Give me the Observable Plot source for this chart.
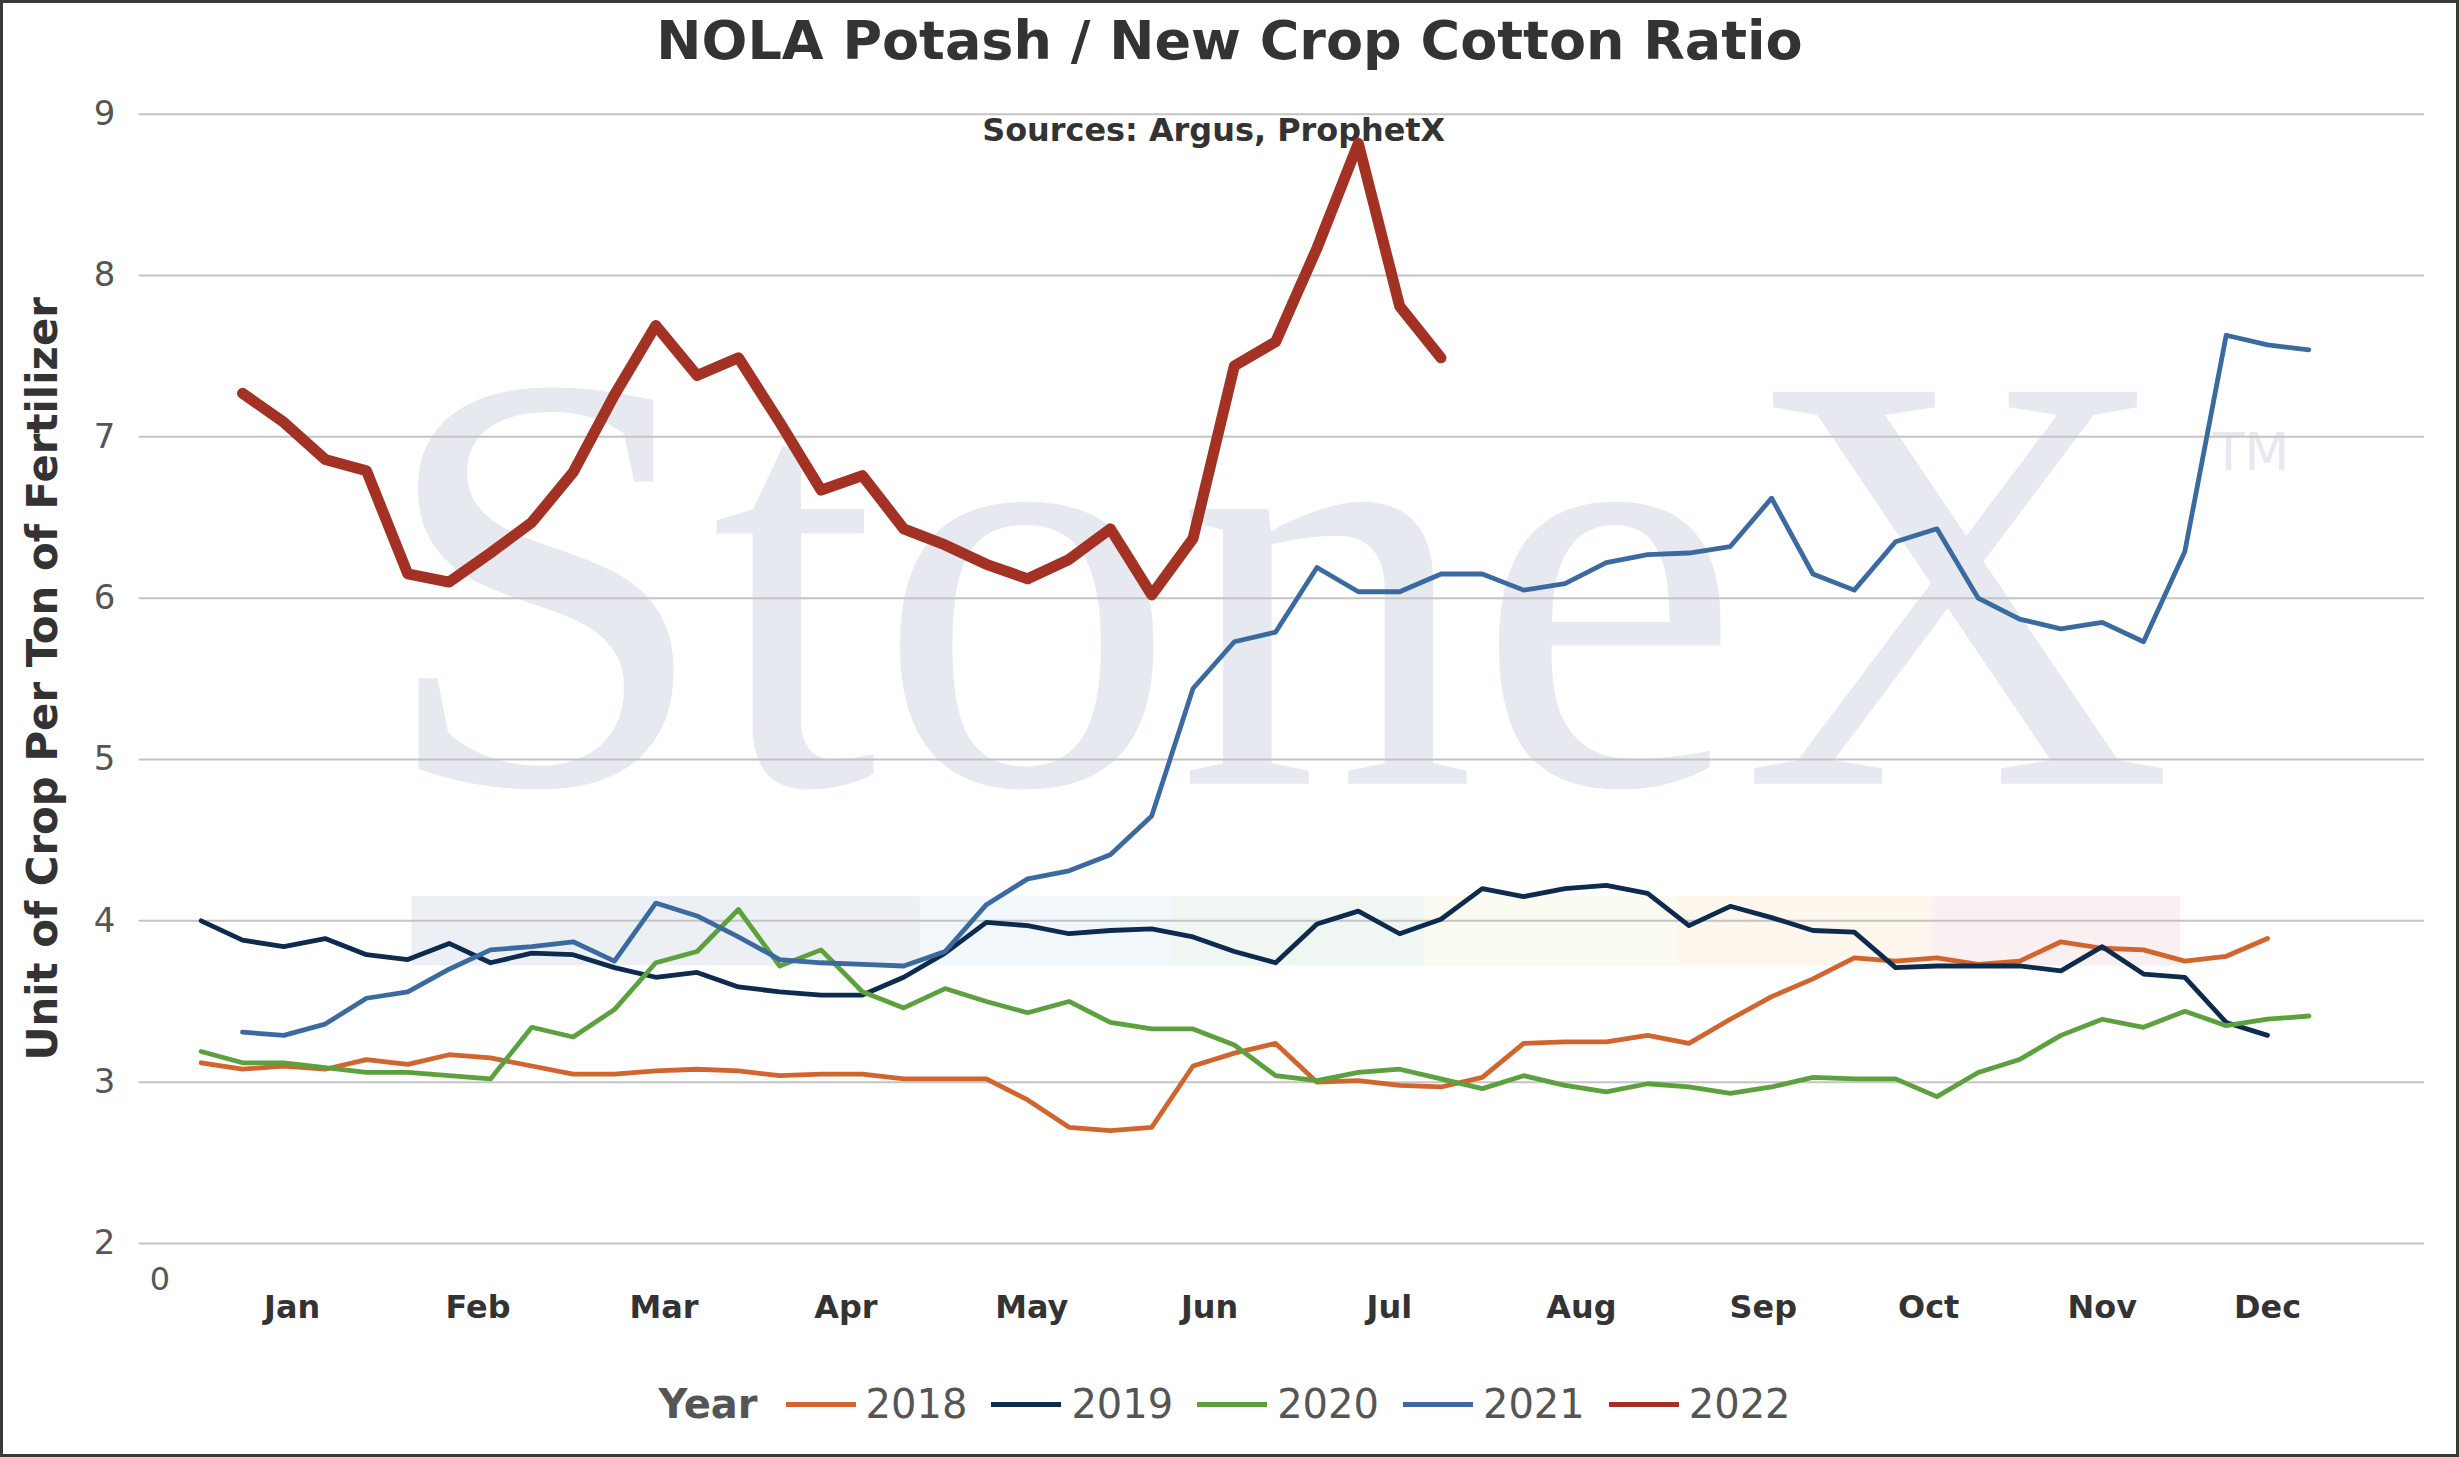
<!DOCTYPE html>
<html><head><meta charset="utf-8">
<script src="https://cdn.jsdelivr.net/npm/d3@7"></script>
<script src="https://cdn.jsdelivr.net/npm/@observablehq/plot@0.6"></script>
<style>
body{margin:0;background:#fff;font-family:"DejaVu Sans",Verdana,sans-serif}
#wrap{position:relative;width:2459px;height:1457px;box-sizing:border-box;border:3px solid #3a3a3a;overflow:hidden}
#chart{position:absolute;left:0;top:0}
#title{position:absolute;top:6px;left:0;width:100%;text-align:center;font-weight:bold;font-size:54px;color:#333}
#legend{position:absolute;top:1378px;left:0;width:100%;text-align:center;font-size:40px;color:#555;display:flex;justify-content:center;align-items:center;gap:14px}
#legend b{margin-right:14px}
.sw{display:inline-block;width:70px;height:5px;margin-right:10px;vertical-align:middle}
.it{display:flex;align-items:center;margin-right:10px}
</style></head><body>
<div id="wrap"><div id="chart"></div><div id="title">NOLA Potash / New Crop Cotton Ratio</div><div id="legend"></div></div>
<script>
const years=["2018","2019","2020","2021","2022"];
const colors=["#d2652d","#0d2b4e","#5da13f","#3b6aa0","#a33224"];
const startWeek={"2018":1,"2019":1,"2020":1,"2021":2,"2022":2};
const v2018=[3.12,3.08,3.10,3.08,3.14,3.11,3.17,3.15,3.10,3.05,3.05,3.07,3.08,3.07,3.04,3.05,3.05,3.02,3.02,3.02,2.89,2.72,2.70,2.72,3.10,3.18,3.24,3.00,3.01,2.98,2.97,3.03,3.24,3.25,3.25,3.29,3.24,3.39,3.53,3.64,3.77,3.75,3.77,3.73,3.75,3.87,3.83,3.82,3.75,3.78,3.89];
const v2019=[4.00,3.88,3.84,3.89,3.79,3.76,3.86,3.74,3.80,3.79,3.71,3.65,3.68,3.59,3.56,3.54,3.54,3.65,3.80,3.99,3.97,3.92,3.94,3.95,3.90,3.81,3.74,3.98,4.06,3.92,4.01,4.20,4.15,4.20,4.22,4.17,3.97,4.09,4.02,3.94,3.93,3.71,3.72,3.72,3.72,3.69,3.84,3.67,3.65,3.37,3.29];
const v2020=[3.19,3.12,3.12,3.09,3.06,3.06,3.04,3.02,3.34,3.28,3.45,3.74,3.81,4.07,3.72,3.82,3.56,3.46,3.58,3.50,3.43,3.50,3.37,3.33,3.33,3.23,3.04,3.01,3.06,3.08,3.02,2.96,3.04,2.98,2.94,2.99,2.97,2.93,2.97,3.03,3.02,3.02,2.91,3.06,3.14,3.29,3.39,3.34,3.44,3.35,3.39,3.41];
const v2021=[3.31,3.29,3.36,3.52,3.56,3.70,3.82,3.84,3.87,3.75,4.11,4.03,3.90,3.76,3.74,3.73,3.72,3.81,4.10,4.26,4.31,4.41,4.65,5.44,5.73,5.79,6.19,6.04,6.04,6.15,6.15,6.05,6.09,6.22,6.27,6.28,6.32,6.62,6.15,6.05,6.35,6.43,6.00,5.87,5.81,5.85,5.73,6.29,7.63,7.57,7.54];
const v2022=[7.27,7.09,6.86,6.79,6.15,6.10,6.28,6.47,6.78,7.26,7.69,7.38,7.49,7.09,6.67,6.76,6.43,6.33,6.21,6.12,6.24,6.43,6.02,6.37,7.44,7.59,8.17,8.82,7.81,7.49];
const monthLabels=["Jan","Feb","Mar","Apr","May","Jun","Jul","Aug","Sep","Oct","Nov","Dec"];
const monthWeeks=[3.2,7.7,12.2,16.6,21.1,25.4,29.75,34.4,38.8,42.8,47,51];
const yTicks=[2,3,4,5,6,7,8,9];
const bandX1=[6.1,18.4,24.5,30.6,36.7,42.9];
const bandX2=[18.4,24.5,30.6,36.7,42.9,48.9];
const bandColors=["#dde3ec","#e8f0f8","#e3eee6","#f8f8e8","#fcf0e0","#f8e3e6"];

const series={"2018":v2018,"2019":v2019,"2020":v2020,"2021":v2021,"2022":v2022};
const data=years.flatMap(y=>series[y].map((v,i)=>({year:y,week:startWeek[y]+i,value:v})));
const bands=bandX1.map((x,i)=>({x1:x,x2:bandX2[i],c:bandColors[i]}));
const months=monthLabels.map((m,i)=>({m,w:monthWeeks[i]}));

const plot=Plot.plot({
  width:2459,height:1457,
  marginTop:111,marginBottom:214,marginLeft:136,marginRight:32,
  x:{domain:[-0.5,54.8],axis:null},
  y:{domain:[2,9],ticks:yTicks,label:null,grid:false},
  style:{fontFamily:"DejaVu Sans, Verdana, sans-serif",background:"transparent"},
  marks:[
    Plot.rect(bands,{x1:"x1",x2:"x2",y1:3.72,y2:4.15,fill:"c",fillOpacity:0.55}),
    Plot.text(["StoneX"],{x:27,y:4.85,text:d=>d,fontSize:600,fontFamily:"Liberation Serif, serif",fill:"#e6e9ef",textAnchor:"middle",lineAnchor:"bottom"}),
    Plot.text(["TM"],{x:50.6,y:6.9,text:d=>d,fontSize:52,fill:"#e6e9ef"}),
    Plot.gridY(yTicks,{stroke:"#c4c4c4",strokeOpacity:1,strokeWidth:2}),
    Plot.axisY({ticks:yTicks,tickFormat:"d",tickSize:0,tickPadding:24,fontSize:34,fill:"#555",label:null}),
    Plot.text(["Unit of Crop Per Ton of Fertilizer"],{frameAnchor:"left",dx:-96,rotate:-90,textAnchor:"middle",text:d=>d,fontSize:42,fontWeight:"bold",fill:"#333"}),
    Plot.text(months,{x:"w",y:2,text:"m",dy:64,fontSize:32,fontWeight:"bold",fill:"#333"}),
    Plot.text(["0"],{x:0,y:2,text:d=>d,dy:36,fontSize:32,fill:"#555"}),
    Plot.text(["Sources: Argus, ProphetX"],{x:25.5,y:8.9,text:d=>d,fontSize:32,fontWeight:"bold",fill:"#333"}),
    Plot.line(data.filter(d=>d.year!=="2022"),{x:"week",y:"value",z:"year",stroke:d=>colors[years.indexOf(d.year)],strokeWidth:4.8}),
    Plot.line(data.filter(d=>d.year==="2022"),{x:"week",y:"value",stroke:colors[4],strokeWidth:11})
  ]
});
document.getElementById("chart").appendChild(plot);
const lg=document.getElementById("legend");
lg.innerHTML="<b>Year</b>"+years.map((y,i)=>`<span class="it"><span class="sw" style="background:${colors[i]}"></span>${y}</span>`).join("");
</script></body></html>
